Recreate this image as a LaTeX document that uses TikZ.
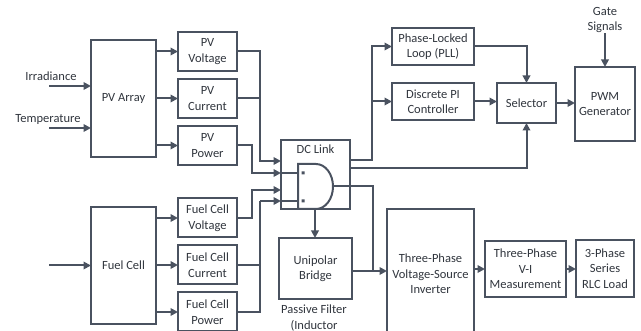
\documentclass[tikz,border=0pt]{standalone}
\usepackage{fontspec}
\setmainfont{Carlito}
\usetikzlibrary{arrows.meta,positioning}

\definecolor{linec}{HTML}{4A5260}
\definecolor{txtc}{HTML}{30353D}

\begin{document}
\begin{tikzpicture}[
		x=1pt, y=-1pt,
		node distance=8pt,
		font=\fontsize{12.5}{15.5}\selectfont,
		block/.style={
			rectangle,
			draw=linec,
			line width=2pt,
			align=center,
			inner sep=0pt,
			outer sep=0pt,
			text=txtc
		},
		small/.style={
			block,
			minimum width=59pt,
			minimum height=39pt
		},
		tag/.style={
			align=center,
			inner sep=0pt,
			text=txtc
		},
		arrow/.style={
			-{Triangle[length=7.5pt,width=7.5pt]},
			draw=linec,
			line width=2pt
		},
		wire/.style={
			draw=linec,
			line width=2pt
		}
		]
		
		\useasboundingbox (0,0) rectangle (641,331);
		\clip (0,0) rectangle (641,331);
		
		% sources
		\node[block, minimum width=65pt, minimum height=117pt] (pva) at (123.5,98.5)
		{PV Array};
		
		\node[block, minimum width=65pt, minimum height=117pt] (fc) at (123.5,265.5)
		{Fuel Cell};
		
		\node[tag] (irr) at (51,76) {Irradiance};
		\node[tag] (temp) at (48,119) {Temperature};
		\coordinate (irrin) at (49,86);
		\coordinate (tempin) at (49,128);
		\coordinate (fcin) at (49,265.5);
		
		% measurements
		\node[small] (pvv) at (207.5,51.5) {PV\\Voltage};
		\node[small, below=of pvv] (pvc) {PV\\Current};
		\node[small, below=of pvc] (pvp) {PV\\Power};
		
		\node[small] (fcv) at (207.5,218) {Fuel Cell\\Voltage};
		\node[small, below=of fcv] (fcc) {Fuel Cell\\Current};
		\node[small, below=of fcc] (fcp) {Fuel Cell\\Power};
		
		% dc link
		\node[block, minimum width=69pt, minimum height=69pt,
		label={[tag, below=5pt]north:DC Link}] (dc) at (315.5,174.5) {};
		
		\draw[wire] (298,164) -- (316,164)
		arc[start angle=90, end angle=-90, x radius=17pt, y radius=22.5pt]
		-- (298,209) -- cycle;
		\fill[linec] (301.5,171.5) rectangle ++(3,3) (301.5,199.5) rectangle ++(3,3);
		
		\coordinate (ga) at (298,173);
		\coordinate (gb) at (298,201);
		\coordinate (gout) at (333,186.5);
		\coordinate (gbot) at (315,209);
		
		% control
		\node[block, minimum width=82pt, minimum height=37pt] (pll) at (433,46.5)
		{Phase-Locked\\Loop (PLL)};
		
		\node[block, minimum width=82pt, minimum height=37pt] (pi) at (433,101.5)
		{Discrete PI\\Controller};
		
		\node[block, minimum width=59pt, minimum height=40pt] (sel) at (526.5,103)
		{Selector};
		
		\node[block, minimum width=60pt, minimum height=74pt] (pwm) at (605,104)
		{PWM\\Generator};
		
		\node[tag] (gs) at (605,20) {Gate\\Signals};
		
		% power stage
		\node[block, minimum width=73pt, minimum height=61pt] (ub) at (315.5,268.5)
		{Unipolar\\Bridge};
		
		\node[tag, anchor=north] (filt) at (314,305)
		{Passive Filter\\(Inductor};
		
		\node[block, minimum width=87pt, minimum height=130pt] (inv) at (430.5,274)
		{Three-Phase\\Voltage-Source\\Inverter};
		
		\node[block, minimum width=81pt, minimum height=56pt] (vim) at (525.5,269)
		{Three-Phase\\V-I\\Measurement};
		
		\node[block, minimum width=58pt, minimum height=57pt] (rlc) at (605,268.5)
		{3-Phase\\Series\\RLC Load};
		
		\coordinate (bus1) at (260,161);
		\coordinate (bus2) at (252,173);
		\coordinate (bus3) at (252,190);
		\coordinate (bus4) at (260,201);
		\coordinate (split) at (372,160);
		\coordinate (fb) at (527,168);
		\coordinate (drop) at (373,271);
		
		% inputs
		\draw[arrow] (irrin) -- (irrin -| pva.west);
		\draw[arrow] (tempin) -- (tempin -| pva.west);
		\draw[arrow] (fcin) -- (fc.west);
		
		\draw[arrow] (pva.east |- pvv.west) -- (pvv.west);
		\draw[arrow] (pva.east |- pvc.west) -- (pvc.west);
		\draw[arrow] (pva.east |- pvp.west) -- (pvp.west);
		\draw[arrow] (fc.east |- fcv.west) -- (fcv.west);
		\draw[arrow] (fc.east |- fcc.west) -- (fcc.west);
		\draw[arrow] (fc.east |- fcp.west) -- (fcp.west);
		
		% into the dc link
		\draw[arrow] (pvv.east) -| (bus1) -- (bus1 -| dc.west);
		\draw[wire] (pvc.east) -| (bus1);
		\draw[arrow] (pvp.east) -| (bus2) -- (bus2 -| dc.west);
		\draw[arrow] (fcv.east) -| (bus3) -- (bus3 -| dc.west);
		\draw[wire] (fcp.east) -| (bus4);
		\draw[wire] (fcc.east) -| (bus4);
		\draw[arrow] (bus4) -- (bus4 -| dc.west);
		
		\draw[wire] (ga -| dc.west) -- (ga);
		\draw[wire] (gb -| dc.west) -- (gb);
		
		% out of the dc link
		\draw[arrow] (split -| dc.east) -- (split) |- (pll.west);
		\draw[arrow] (split |- pi.west) -- (pi.west);
		\draw[arrow] (fb -| dc.east) -| (sel.south);
		\draw[arrow] (pll.east) -| (sel.north);
		\draw[arrow] (pi.east) -- (pi.east -| sel.west);
		\draw[arrow] (sel.east) -- (sel.east -| pwm.west);
		\draw[arrow] (gs.south) -- (pwm.north);
		
		\draw[arrow] (gbot) -- (gbot |- ub.north);
		\draw[arrow] (gout) -| (drop) -- (drop -| inv.west);
		\draw[wire] (ub.east |- drop) -- (drop);
		\draw[arrow] (vim.west -| inv.east) -- (vim.west);
		\draw[arrow] (vim.east) -- (vim.east -| rlc.west);
		
	\end{tikzpicture}
\end{document}
